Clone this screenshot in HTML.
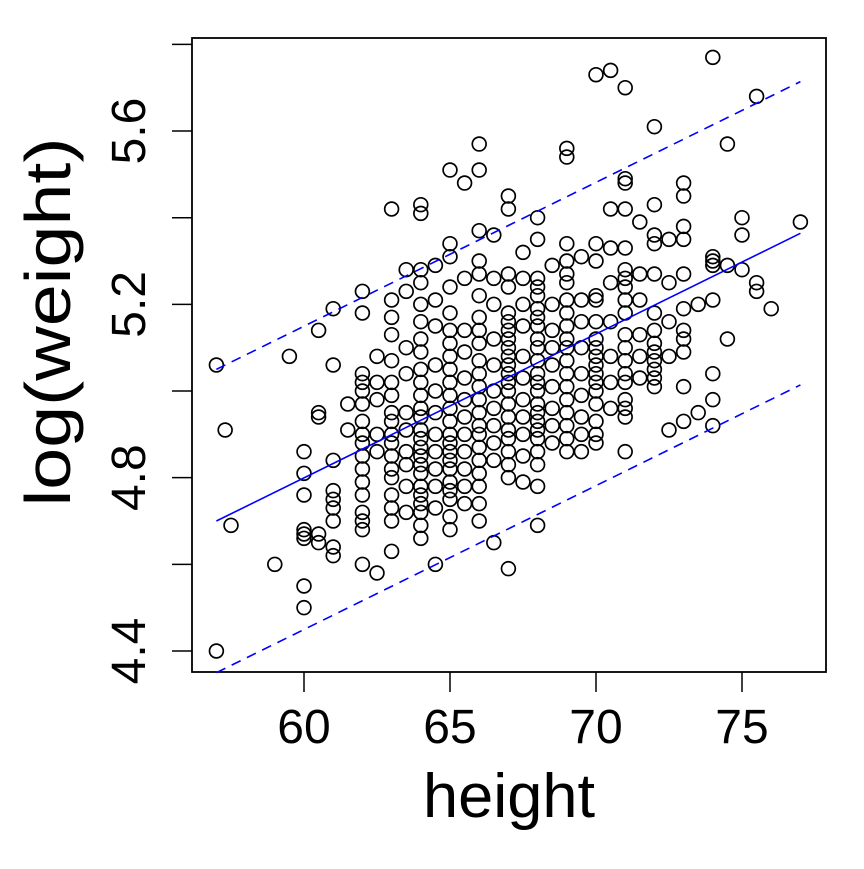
<!DOCTYPE html>
<html><head><meta charset="utf-8"><style>
html,body{margin:0;padding:0;background:#fff}
svg text{font-family:"Liberation Sans",Arial,sans-serif;fill:#000}
</style></head><body>
<svg id="chart" width="864" height="864" viewBox="0 0 864 864">
<rect x="192" y="38" width="634" height="634" fill="none" stroke="#000" stroke-width="1.8"/>
<g id="axes"></g>
<g id="pts"></g>
<g id="lines"></g>
<text x="509" y="817" font-size="62" text-anchor="middle" textLength="172" lengthAdjust="spacingAndGlyphs">height</text>
<text transform="translate(70,322) rotate(-90)" font-size="64" text-anchor="middle" textLength="369" lengthAdjust="spacingAndGlyphs">log(weight)</text>
</svg>
<script>
const xTicks=[60,65,70,75];
const yTicks=[4.4,4.6,4.8,5.0,5.2,5.4,5.6,5.8];
const yLabels=["4.4","","4.8","","5.2","","5.6",""];
const fitIntercept=4.70, fitSlope=0.0332, fitBand=0.35, fitRange=[57,77];
const cols=[
[57,[5.06,4.40]],[57.5,[4.69]],[57.3,[4.91]],[59,[4.60]],[59.5,[5.08]],
[60,[4.86,4.81,4.76,4.67,4.66,4.68,4.50,4.55]],
[60.5,[5.14,4.94,4.95,4.65,4.67]],
[61,[5.19,5.06,4.84,4.77,4.75,4.73,4.70,4.64,4.62]],
[61.5,[4.97,4.91]],
[62,[5.23,5.18,5.04,5.02,5.00,4.97,4.93,4.90,4.88,4.85,4.82,4.79,4.76,4.72,4.70,4.68,4.60]],
[62.5,[5.08,5.02,4.98,4.90,4.86,4.58]],
[63,[5.42,5.21,5.17,5.13,5.07,5.02,4.99,4.95,4.93,4.90,4.88,4.85,4.82,4.80,4.76,4.73,4.70,4.63]],
[63.5,[5.28,5.23,5.10,5.04,4.95,4.91,4.86,4.83,4.78,4.72]],
[64,[5.43,5.41,5.28,5.25,5.20,5.16,5.12,5.09,5.05,5.02,4.99,4.96,4.94,4.91,4.89,4.87,4.85,4.83,4.81,4.78,4.76,4.74,4.72,4.69,4.66]],
[64.5,[5.29,5.21,5.15,5.06,5.00,4.95,4.90,4.86,4.82,4.78,4.73,4.60]],
[65,[5.51,5.34,5.31,5.24,5.18,5.14,5.11,5.08,5.05,5.02,4.99,4.96,4.93,4.90,4.88,4.86,4.84,4.82,4.79,4.77,4.75,4.71,4.68]],
[65.5,[5.48,5.26,5.14,5.09,5.03,4.98,4.94,4.90,4.86,4.82,4.78,4.74]],
[66,[5.57,5.51,5.37,5.30,5.27,5.22,5.17,5.14,5.11,5.07,5.04,5.01,4.98,4.95,4.92,4.90,4.87,4.84,4.81,4.78,4.74,4.70]],
[66.5,[5.36,5.26,5.20,5.12,5.06,5.00,4.96,4.92,4.88,4.84,4.65]],
[67,[5.45,5.42,5.27,5.24,5.18,5.16,5.14,5.12,5.10,5.08,5.06,5.04,5.02,5.00,4.97,4.94,4.91,4.89,4.86,4.83,4.80,4.59]],
[67.5,[5.32,5.26,5.20,5.15,5.08,5.03,4.98,4.94,4.90,4.85,4.79]],
[68,[5.40,5.35,5.26,5.24,5.22,5.19,5.17,5.15,5.12,5.10,5.07,5.04,5.02,5.00,4.97,4.95,4.93,4.91,4.89,4.86,4.83,4.78,4.69]],
[68.5,[5.29,5.20,5.14,5.10,5.06,5.01,4.96,4.92,4.88]],
[69,[5.56,5.54,5.34,5.30,5.27,5.25,5.21,5.18,5.15,5.12,5.10,5.07,5.04,5.01,4.98,4.95,4.92,4.89,4.86]],
[69.5,[5.31,5.21,5.16,5.10,5.04,4.99,4.94,4.90,4.86]],
[70,[5.73,5.34,5.30,5.22,5.21,5.16,5.12,5.10,5.08,5.06,5.04,5.02,5.00,4.97,4.93,4.90,4.88]],
[70.5,[5.74,5.42,5.33,5.25,5.16,5.08,5.02,4.96]],
[71,[5.70,5.49,5.48,5.42,5.33,5.28,5.26,5.24,5.21,5.18,5.13,5.10,5.07,5.04,5.02,4.98,4.96,4.94,4.86]],
[71.5,[5.39,5.27,5.21,5.13,5.08,5.03]],
[72,[5.61,5.43,5.36,5.34,5.27,5.18,5.14,5.11,5.09,5.07,5.05,5.03,5.01]],
[72.5,[5.35,5.25,5.16,5.08,4.91]],
[73,[5.48,5.45,5.38,5.35,5.27,5.19,5.14,5.12,5.09,5.01,4.93]],
[73.5,[5.20,4.95]],
[74,[5.77,5.31,5.30,5.29,5.21,5.04,4.98,4.92]],
[74.5,[5.57,5.29,5.12]],
[75,[5.40,5.36,5.28]],
[75.5,[5.68,5.25,5.23]],
[76,[5.19]],
[77,[5.39]]
];
const NS="http://www.w3.org/2000/svg";
const X=v=>304+(v-60)*29.2;
const Y=v=>651-(v-4.4)*433.3;
function mk(tag,at,parent){const e=document.createElementNS(NS,tag);for(const k in at)e.setAttribute(k,at[k]);parent.appendChild(e);return e;}
const ax=document.getElementById('axes');
xTicks.forEach(t=>{
 const tk=mk('line',{x1:X(t),x2:X(t),y1:672,y2:692,stroke:'#000','stroke-width':1.5},ax);
 
 
 const tx=mk('text',{x:X(t),y:743,'font-size':48,'text-anchor':'middle'},ax);tx.textContent=t;
 
 
});
yTicks.forEach((t,i)=>{
 const tk=mk('line',{x1:172,x2:192,y1:Y(t),y2:Y(t),stroke:'#000','stroke-width':1.5},ax);
 
 
 if(yLabels[i]){
  const tx=mk('text',{transform:`translate(145,${Y(t)}) rotate(-90)`,'font-size':48,'text-anchor':'middle'},ax);tx.textContent=yLabels[i];
  
  
 }
});
const pg=document.getElementById('pts');
cols.forEach(([h,ws])=>ws.forEach(w=>{
 const c=mk('circle',{cx:X(h),cy:Y(w),r:6.9,fill:'none',stroke:'#000','stroke-width':1.7},pg);
 
 
}));
const lg=document.getElementById('lines');
[[0,'fit-line',null],[fitBand,'upper-band','10,7'],[-fitBand,'lower-band','10,7']].forEach(([off,name,dash])=>{
 const a={x1:X(fitRange[0]),x2:X(fitRange[1]),y1:Y(fitIntercept+off),y2:Y(fitIntercept+fitSlope*(fitRange[1]-fitRange[0])+off),stroke:'#0000ff','stroke-width':1.6};
 if(dash)a['stroke-dasharray']=dash;
 const e=mk('line',a,lg);
 
 
});
</script>
</body></html>
